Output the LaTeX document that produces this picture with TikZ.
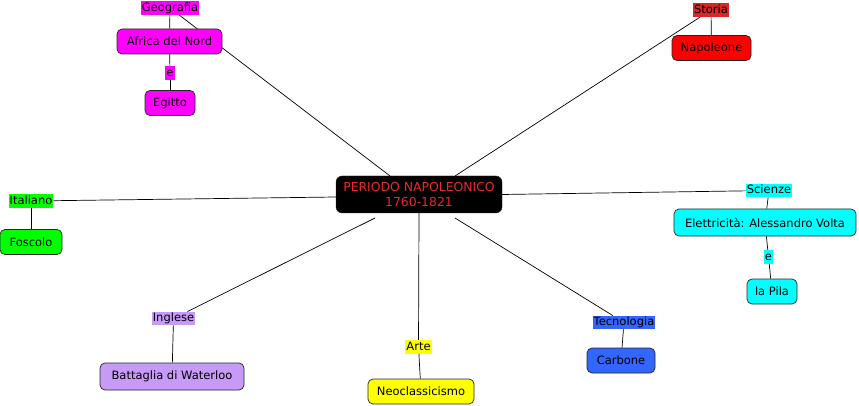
\documentclass[tikz,border=0pt]{standalone}
\usepackage{fontspec}
\setmainfont{DejaVu Sans}
\usetikzlibrary{backgrounds}
\definecolor{mag}{HTML}{FF00FF}
\definecolor{storiabg}{HTML}{D92626}
\definecolor{napred}{HTML}{FF0000}
\definecolor{grn}{HTML}{00FF00}
\definecolor{cyn}{HTML}{00FFFF}
\definecolor{purp}{HTML}{C79AF7}
\definecolor{yel}{HTML}{FFFF00}
\definecolor{blu}{HTML}{3366FF}
\definecolor{centralred}{HTML}{E8282A}
\tikzset{
  lbl/.style={fill=#1, inner sep=1pt, font=\fontsize{11.5}{13}\selectfont, text height=9pt, text depth=2.5pt},
  box/.style={fill=#1, draw=black!85, line width=0.7pt, rounded corners=5pt, inner sep=0pt, font=\fontsize{11.5}{13}\selectfont, minimum height=25pt},
  conn/.style={draw=black, line width=0.7pt}
}
\begin{document}
\begin{tikzpicture}[x=1pt,y=-1pt]
\useasboundingbox (0,0) rectangle (859,406);
\begin{scope}[on background layer]
\fill[white] (0,0) rectangle (859,406);
\end{scope}
% central
\node[fill=black, rounded corners=6pt, draw=black!85, minimum width=166pt, minimum height=37pt, inner sep=0pt, align=center, text=centralred, font=\fontsize{12.4}{15}\selectfont] (c) at (419,194.5) {PERIODO NAPOLEONICO\\1760-1821};
% Geografia
\node[lbl=mag] (geo) at (170,8) {Geografia};
\node[box=mag, minimum width=105pt] (afr) at (169.5,41.5) {Africa del Nord};
\node[lbl=mag] (e1) at (170,73) {e};
\node[box=mag, minimum width=50pt] (egi) at (170,103) {Egitto};
% Storia
\node[lbl=storiabg] (sto) at (711,10) {Storia};
\node[box=napred, minimum width=79pt] (nap) at (711.5,48) {Napoleone};
% Italiano
\node[lbl=grn] (ita) at (31,201) {Italiano};
\node[box=grn, minimum width=62pt] (fos) at (31,242) {Foscolo};
% Scienze
\node[lbl=cyn] (sci) at (769,190.5) {Scienze};
\node[box=cyn, minimum width=182pt, minimum height=27pt] (ele) at (765,222.5) {Elettricità: Alessandro Volta};
\node[lbl=cyn] (e2) at (768.5,257) {e};
\node[box=cyn, minimum width=50pt] (pil) at (772,291.5) {la Pila};
% Inglese
\node[lbl=purp] (ing) at (173.5,318.5) {Inglese};
\node[box=purp, minimum width=144pt, minimum height=27pt] (bat) at (172,376.5) {Battaglia di Waterloo};
% Arte
\node[lbl=yel] (art) at (418.5,347) {Arte};
\node[box=yel, minimum width=106pt] (neo) at (421,391.5) {Neoclassicismo};
% Tecnologia
\node[lbl=blu] (tec) at (624,322.5) {Tecnologia};
\node[box=blu, minimum width=68pt] (car) at (621,360.5) {Carbone};
\begin{scope}[on background layer]
\draw[conn] (c.north west)++(54,0) -- (geo);
\draw[conn] (c) ++(36,-18.5) -- (sto);
\draw[conn] (c.west)++(0,2.5) -- (ita);
\draw[conn] (c.east) -- (sci);
\draw[conn] (c) ++(-44,23.5) -- (ing);
\draw[conn] (c.south) -- (art);
\draw[conn] (c) ++(36,23.5) -- (tec);
\draw[conn] (geo) -- (afr);
\draw[conn] (afr) -- (e1);
\draw[conn] (e1) -- (egi);
\draw[conn] (sto) -- (nap);
\draw[conn] (ita) -- (fos);
\draw[conn] (sci) -- (ele);
\draw[conn] (ele) -- (e2);
\draw[conn] (e2) -- (pil);
\draw[conn] (ing) -- (bat);
\draw[conn] (art) -- (neo);
\draw[conn] (tec) -- (car);
\end{scope}
\end{tikzpicture}
\end{document}
